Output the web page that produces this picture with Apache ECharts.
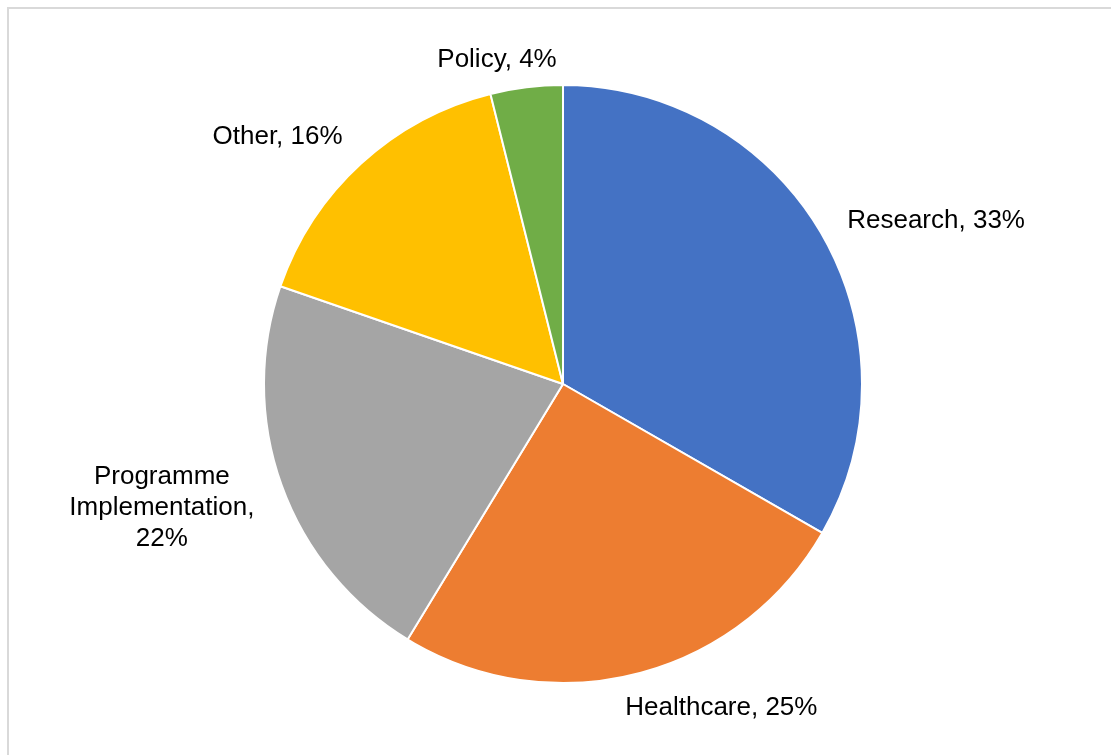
<!DOCTYPE html>
<html>
<head>
<meta charset="utf-8">
<script src="https://cdn.jsdelivr.net/npm/echarts@6/dist/echarts.min.js"></script>
<style>
  html, body { margin: 0; padding: 0; background: #ffffff; }
  #chart { width: 1111px; height: 755px; }
</style>
</head>
<body>
<div id="chart"></div>
<script>
// ---- data ----
const categories = ['Research', 'Healthcare', 'Programme Implementation', 'Other', 'Policy'];
const shares = [33.3, 25.4, 21.6, 15.8, 3.9];

// ---- styles ----
const colors = ['#4472C4', '#ED7D31', '#A5A5A5', '#FFC000', '#70AD47'];
// label nudges relative to ECharts' default outside position [dx, dy]
const labelNudge = [[92, -3], [74, 15], [-96, 16], [-65, -12], [-22, -8]];

const chart = echarts.init(document.getElementById('chart'), null, { renderer: 'canvas' });

const option = {
  backgroundColor: '#ffffff',
  animation: false,
  graphic: [{
    type: 'rect',
    shape: { x: 8, y: 8, width: 1200, height: 900 },
    style: { fill: 'none', stroke: '#d9d9d9', lineWidth: 2 },
    silent: true
  }],
  series: [{
    type: 'pie',
    center: [563, 384],
    radius: 299,
    startAngle: 90,
    clockwise: true,
    avoidLabelOverlap: false,
    itemStyle: { borderColor: '#ffffff', borderWidth: 2 },
    label: {
      show: true,
      position: 'outside',
      fontFamily: '"Liberation Sans", Arial, sans-serif',
      fontSize: 26,
      lineHeight: 31,
      color: '#000000',
      formatter: function (p) {
        const pct = Math.round(p.percent);
        if (p.name.length > 12) {
          return p.name.replace(' ', '\n') + ',\n' + pct + '%';
        }
        return p.name + ', ' + pct + '%';
      }
    },
    labelLine: { show: false, length: 20, length2: 0 },
    labelLayout: function (params) {
      const n = labelNudge[params.dataIndex];
      return { align: 'center', dx: n[0], dy: n[1] };
    },
    data: categories.map(function (c, i) {
      return { name: c, value: shares[i], itemStyle: { color: colors[i] } };
    })
  }]
};

chart.setOption(option);
</script>
</body>
</html>
